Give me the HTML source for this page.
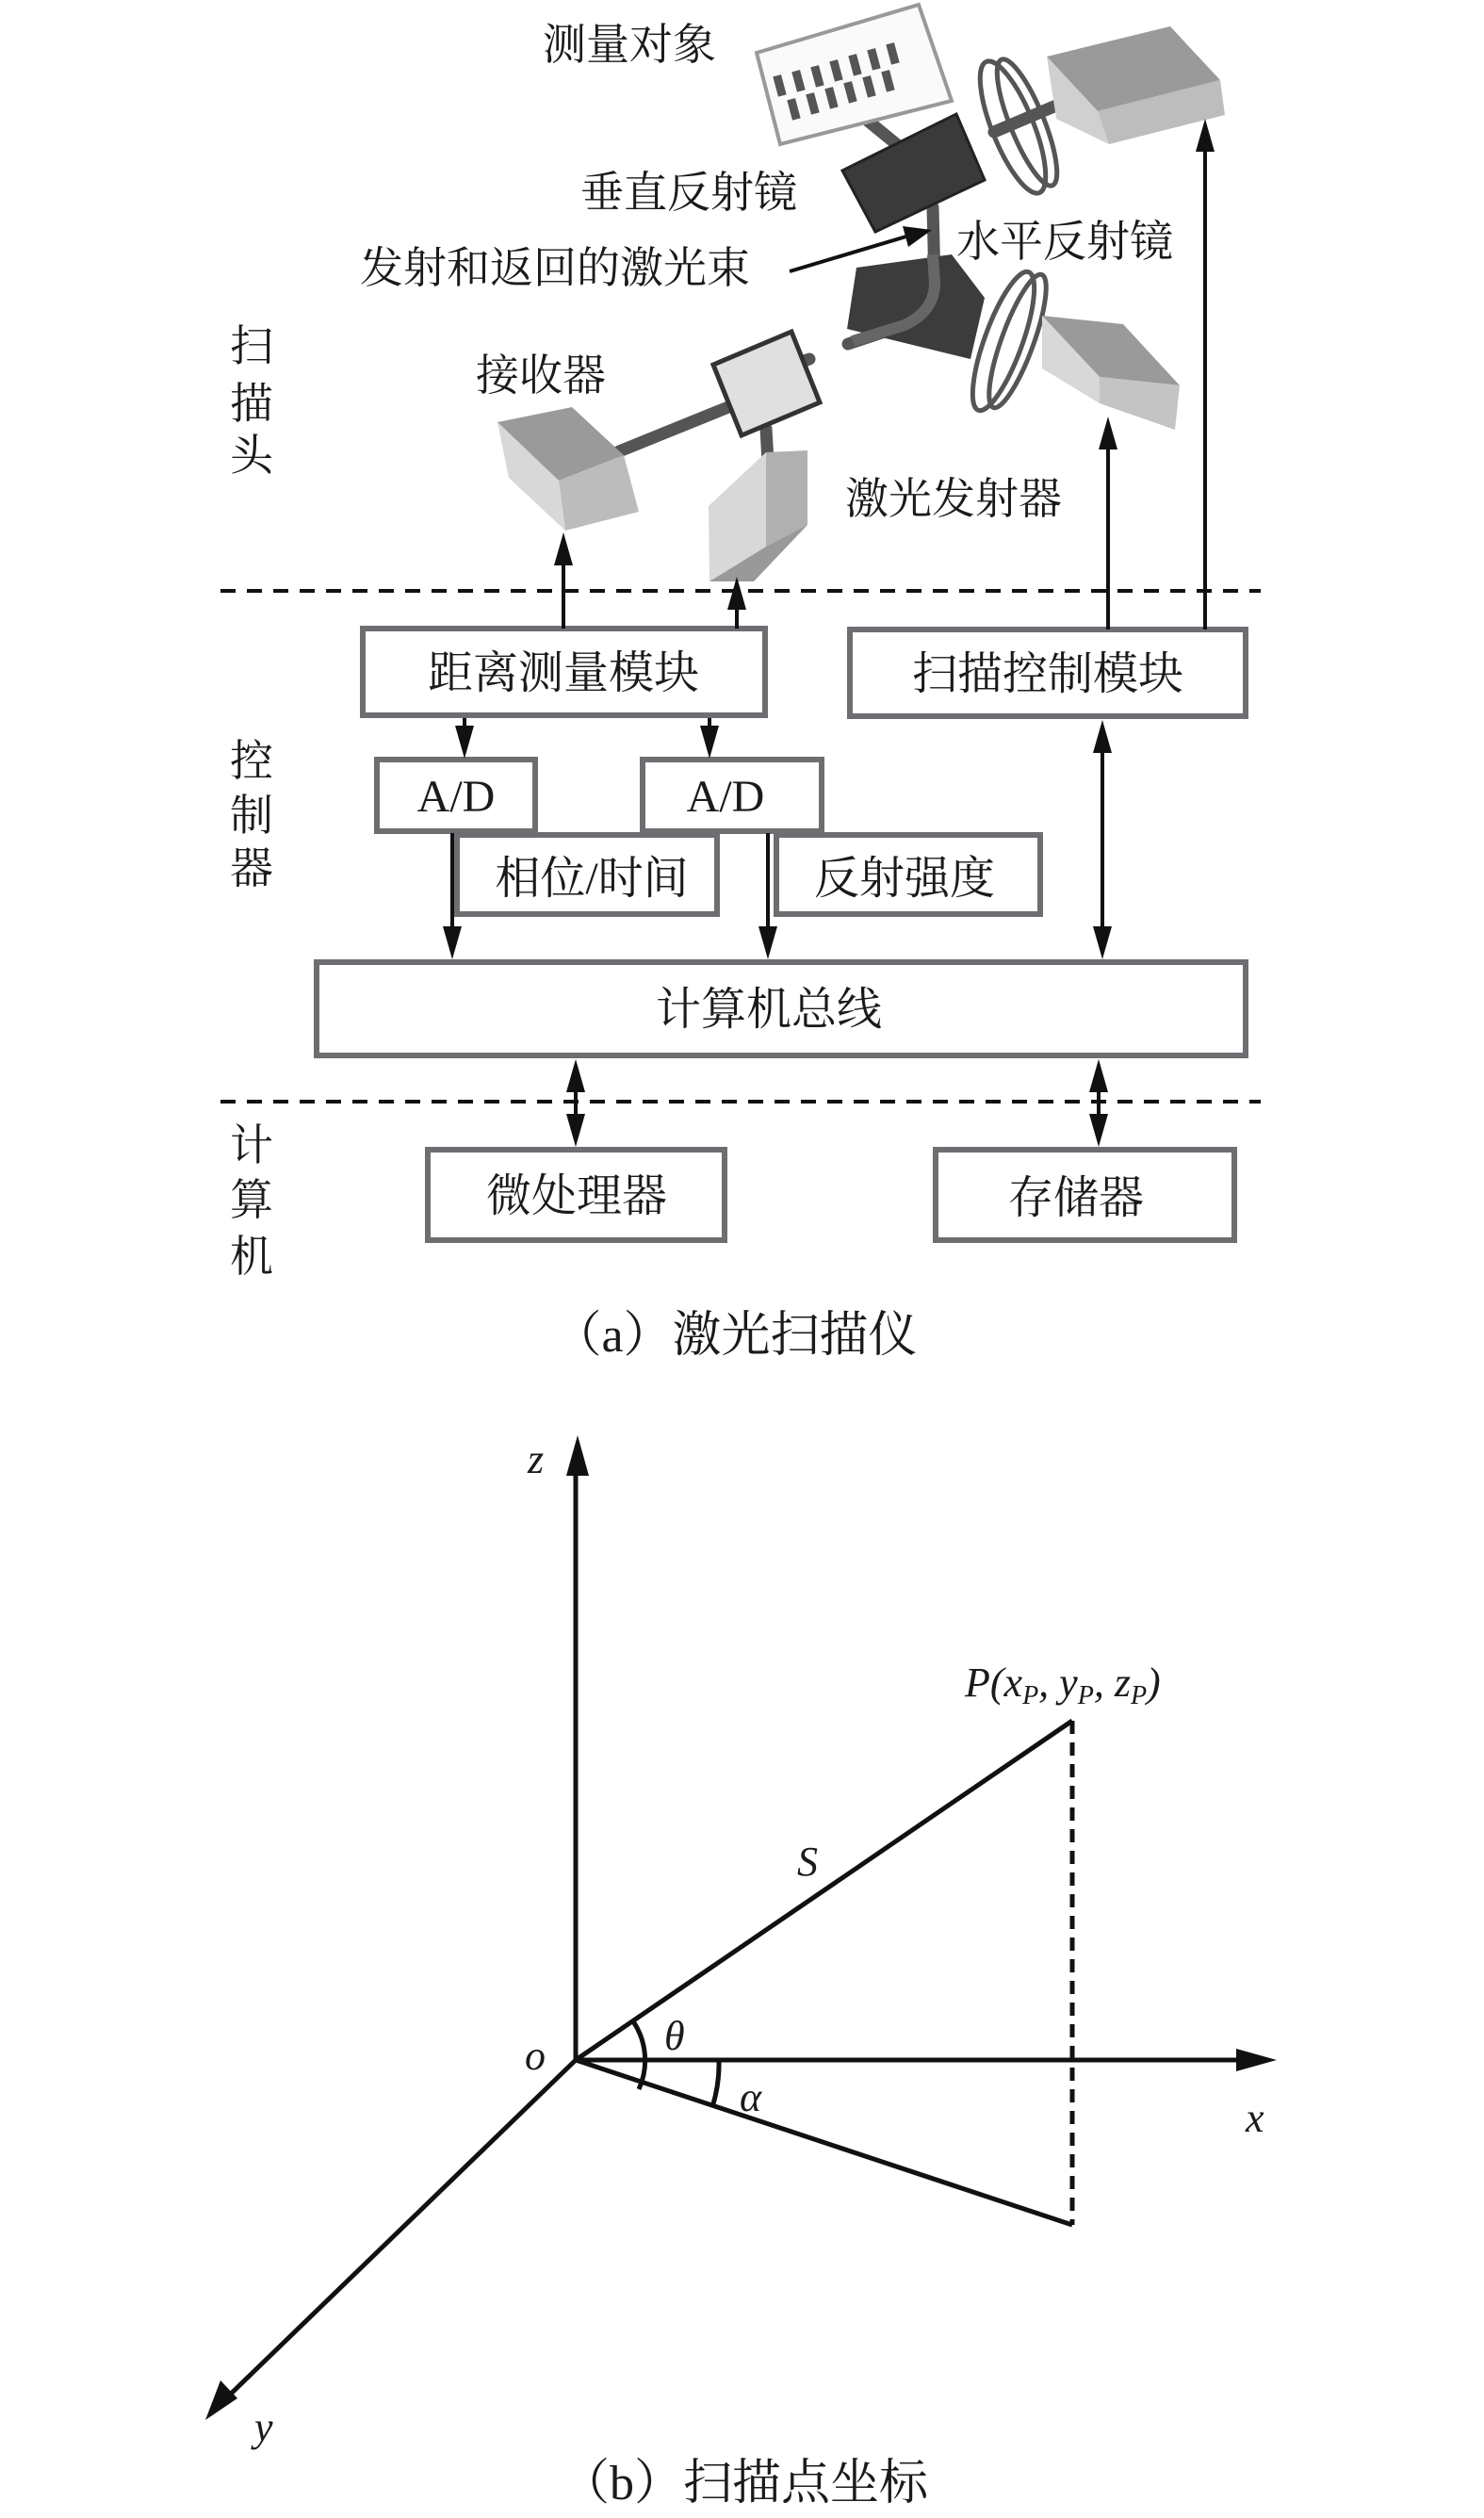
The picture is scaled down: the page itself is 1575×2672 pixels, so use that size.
<!DOCTYPE html>
<html><head><meta charset="utf-8">
<style>
html,body{margin:0;padding:0;background:#fff;}
svg{display:block;}
.cj{font-family:"Liberation Serif","Noto Serif CJK SC",serif;fill:#1a1a1a;}
.it{font-family:"Liberation Serif",serif;font-style:italic;fill:#1a1a1a;}
</style></head><body>
<svg width="1575" height="2672" viewBox="0 0 1575 2672" xmlns="http://www.w3.org/2000/svg">
<defs>
<marker id="ah" markerWidth="10" markerHeight="10" refX="9" refY="5" orient="auto" markerUnits="userSpaceOnUse" viewBox="0 0 10 10">
</marker>
</defs>

<!-- ===== Illustration ===== -->
<!-- beams -->
<g stroke="#555" stroke-width="13" fill="none" stroke-linecap="round">
<line x1="889" y1="102" x2="960" y2="160"/>
<line x1="1055" y1="140" x2="1121" y2="112"/>
<path d="M990 220 L992 300 Q992 330 960 345 L900 365"/>
<line x1="859" y1="381" x2="812" y2="398"/>
<line x1="778" y1="430" x2="657" y2="479"/>
<line x1="813" y1="455" x2="815" y2="490"/>
</g>
<!-- target -->
<polygon points="803,56 975,5 1010,107 828,153" fill="#fafafa" stroke="#999" stroke-width="4"/>
<g fill="#555">
<rect x="823" y="80" width="9" height="22" transform="rotate(-15 827 91)"/>
<rect x="843" y="75" width="9" height="22" transform="rotate(-15 847 86)"/>
<rect x="863" y="70" width="9" height="22" transform="rotate(-15 867 81)"/>
<rect x="883" y="64" width="9" height="22" transform="rotate(-15 887 75)"/>
<rect x="903" y="58" width="9" height="22" transform="rotate(-15 907 69)"/>
<rect x="923" y="52" width="9" height="22" transform="rotate(-15 927 63)"/>
<rect x="943" y="46" width="9" height="22" transform="rotate(-15 947 57)"/>
<rect x="838" y="105" width="9" height="22" transform="rotate(-15 842 116)"/>
<rect x="858" y="99" width="9" height="22" transform="rotate(-15 862 110)"/>
<rect x="878" y="93" width="9" height="22" transform="rotate(-15 882 104)"/>
<rect x="898" y="87" width="9" height="22" transform="rotate(-15 902 98)"/>
<rect x="918" y="81" width="9" height="22" transform="rotate(-15 922 92)"/>
<rect x="938" y="75" width="9" height="22" transform="rotate(-15 942 86)"/>
</g>
<!-- vertical mirror (dark) -->
<polygon points="894,181 1015,121 1045,191 929,246" fill="#3a3a3a" stroke="#222" stroke-width="3"/>
<!-- top ring -->
<g fill="none" stroke="#555" stroke-width="5">
<ellipse cx="1075" cy="135" rx="22" ry="75" transform="rotate(-22 1075 135)"/>
<ellipse cx="1090" cy="130" rx="18" ry="72" transform="rotate(-22 1090 130)"/>
</g>
<!-- top right grey block -->
<polygon points="1111,60 1242,28 1295,85 1165,118" fill="#9a9a9a"/>
<polygon points="1111,60 1165,118 1177,153 1121,126" fill="#d0d0d0"/>
<polygon points="1165,118 1295,85 1300,122 1177,153" fill="#bdbdbd"/>
<!-- lower dark block -->
<polygon points="909,284 1010,270 1045,316 1030,381 899,349" fill="#3c3c3c"/>
<path d="M990 270 L992 300 Q992 330 960 345 L905 362" stroke="#666" stroke-width="12" fill="none"/>
<!-- lower ring -->
<g fill="none" stroke="#555" stroke-width="5">
<ellipse cx="1065" cy="362" rx="20" ry="78" transform="rotate(20 1065 362)"/>
<ellipse cx="1080" cy="362" rx="17" ry="75" transform="rotate(20 1080 362)"/>
</g>
<!-- lower right grey block (laser emitter) -->
<polygon points="1106,335 1192,344 1252,409 1167,400" fill="#9a9a9a"/>
<polygon points="1106,335 1167,400 1167,428 1106,391" fill="#d8d8d8"/>
<polygon points="1167,400 1252,409 1247,456 1167,428" fill="#c4c4c4"/>
<!-- small box -->
<polygon points="757,387 840,352 870,427 787,462" fill="#e0e0e0" stroke="#333" stroke-width="5"/>
<!-- receiver -->
<polygon points="528,448 607,432 662,483 593,510" fill="#9a9a9a"/>
<polygon points="528,448 593,510 600,563 540,507" fill="#d8d8d8"/>
<polygon points="593,510 662,483 678,543 600,563" fill="#bcbcbc"/>
<!-- lower block under small box -->
<polygon points="752,537 813,480 813,580 753,617" fill="#d8d8d8"/>
<polygon points="813,480 857,478 857,557 813,580" fill="#b0b0b0"/>
<polygon points="753,617 813,580 857,557 800,617" fill="#999"/>

<!-- illustration labels -->
<g class="cj" font-size="46">
<text x="576" y="63">测量对象</text>
<text x="616" y="220">垂直反射镜</text>
<text x="382" y="300">发射和返回的激光束</text>
<text x="1015" y="272">水平反射镜</text>
<text x="505" y="414">接收器</text>
<text x="897" y="545">激光发射器</text>
</g>
<!-- pointer arrow -->
<line x1="838" y1="288" x2="965" y2="250" stroke="#111" stroke-width="4"/>
<polygon points="989,244 958,240 964,262" fill="#111"/>

<!-- left section labels -->
<g class="cj" font-size="46" text-anchor="middle">
<text x="267" y="383">扫</text><text x="267" y="444">描</text><text x="267" y="499">头</text>
<text x="267" y="823">控</text><text x="267" y="881">制</text><text x="267" y="937">器</text>
<text x="267" y="1231">计</text><text x="267" y="1289">算</text><text x="267" y="1349">机</text>
</g>

<!-- dashed separators -->
<g stroke="#111" stroke-width="4" stroke-dasharray="16,12">
<line x1="234" y1="627" x2="1338" y2="627"/>
<line x1="234" y1="1169" x2="1338" y2="1169"/>
</g>

<!-- boxes -->
<g fill="#fff" stroke="#6e6e72" stroke-width="6">
<rect x="385" y="667" width="427" height="92"/>
<rect x="902" y="668" width="420" height="92"/>
<rect x="400" y="806" width="168" height="76"/>
<rect x="682" y="806" width="190" height="76"/>
<rect x="485" y="886" width="276" height="84"/>
<rect x="824" y="886" width="280" height="84"/>
<rect x="336" y="1021" width="986" height="99"/>
<rect x="454" y="1220" width="315" height="96"/>
<rect x="993" y="1220" width="317" height="96"/>
</g>
<!-- cover overlaps as in reference: A/D boxes drawn over the lower boxes' tops -->
<g class="cj" font-size="48" text-anchor="middle">
<text x="598" y="730">距离测量模块</text>
<text x="1112" y="731">扫描控制模块</text>
<text x="484" y="861" font-family="Liberation Serif">A/D</text>
<text x="770" y="861" font-family="Liberation Serif">A/D</text>
<text x="628" y="948">相位/时间</text>
<text x="960" y="948">反射强度</text>
<text x="816" y="1087">计算机总线</text>
<text x="612" y="1285">微处理器</text>
<text x="1142" y="1287">存储器</text>
<text x="780" y="1434" font-size="52">（a）激光扫描仪</text>
</g>

<!-- arrows -->
<g stroke="#111" stroke-width="4">
<line x1="598" y1="667" x2="598" y2="590"/>
<line x1="782" y1="667" x2="782" y2="640"/>
<line x1="1176" y1="668" x2="1176" y2="465"/>
<line x1="1279" y1="668" x2="1279" y2="150"/>
<line x1="493" y1="762" x2="493" y2="785"/>
<line x1="753" y1="762" x2="753" y2="785"/>
<line x1="480" y1="884" x2="480" y2="995"/>
<line x1="815" y1="884" x2="815" y2="995"/>
<line x1="1170" y1="790" x2="1170" y2="995"/>
<line x1="611" y1="1145" x2="611" y2="1195"/>
<line x1="1166" y1="1145" x2="1166" y2="1195"/>
</g>
<g fill="#111">
<polygon points="598,565 588,600 608,600"/>
<polygon points="782,612 772,647 792,647"/>
<polygon points="1176,442 1166,477 1186,477"/>
<polygon points="1279,126 1269,161 1289,161"/>
<polygon points="493,805 483,770 503,770"/>
<polygon points="753,805 743,770 763,770"/>
<polygon points="480,1018 470,983 490,983"/>
<polygon points="815,1018 805,983 825,983"/>
<polygon points="1170,764 1160,799 1180,799"/>
<polygon points="1170,1018 1160,983 1180,983"/>
<polygon points="611,1124 601,1159 621,1159"/>
<polygon points="611,1217 601,1182 621,1182"/>
<polygon points="1166,1124 1156,1159 1176,1159"/>
<polygon points="1166,1217 1156,1182 1176,1182"/>
</g>

<!-- ===== Part (b) ===== -->
<g stroke="#111" stroke-width="5" fill="none">
<line x1="611" y1="2186" x2="611" y2="1560"/>
<line x1="611" y1="2186" x2="1320" y2="2186"/>
<line x1="611" y1="2186" x2="1138" y2="1826"/>
<line x1="611" y1="2186" x2="1138" y2="2361"/>
<line x1="611" y1="2186" x2="240" y2="2545"/>
<line x1="1138" y1="1826" x2="1138" y2="2361" stroke-dasharray="14,9"/>
<path d="M672 2145 A74 74 0 0 1 678 2217"/>
<path d="M763 2186 A152 152 0 0 1 756 2236"/>
</g>
<g fill="#111">
<polygon points="613,1523 601,1566 625,1566"/>
<polygon points="1355,2186 1312,2174 1312,2198"/>
<polygon points="218,2568 234,2526 252,2545"/>
</g>
<g class="it" font-size="44">
<text x="560" y="1563">z</text>
<text x="1024" y="1800">P(x<tspan font-size="28" dy="8">P</tspan><tspan dy="-8">, y</tspan><tspan font-size="28" dy="8">P</tspan><tspan dy="-8">, z</tspan><tspan font-size="28" dy="8">P</tspan><tspan dy="-8">)</tspan></text>
<text x="846" y="1990">S</text>
<text x="705" y="2175">θ</text>
<text x="557" y="2196">o</text>
<text x="785" y="2240">α</text>
<text x="1322" y="2262">x</text>
<text x="270" y="2590">y</text>
</g>
<text class="cj" x="790" y="2652" font-size="52" text-anchor="middle">（b）扫描点坐标</text>
</svg>
</body></html>
